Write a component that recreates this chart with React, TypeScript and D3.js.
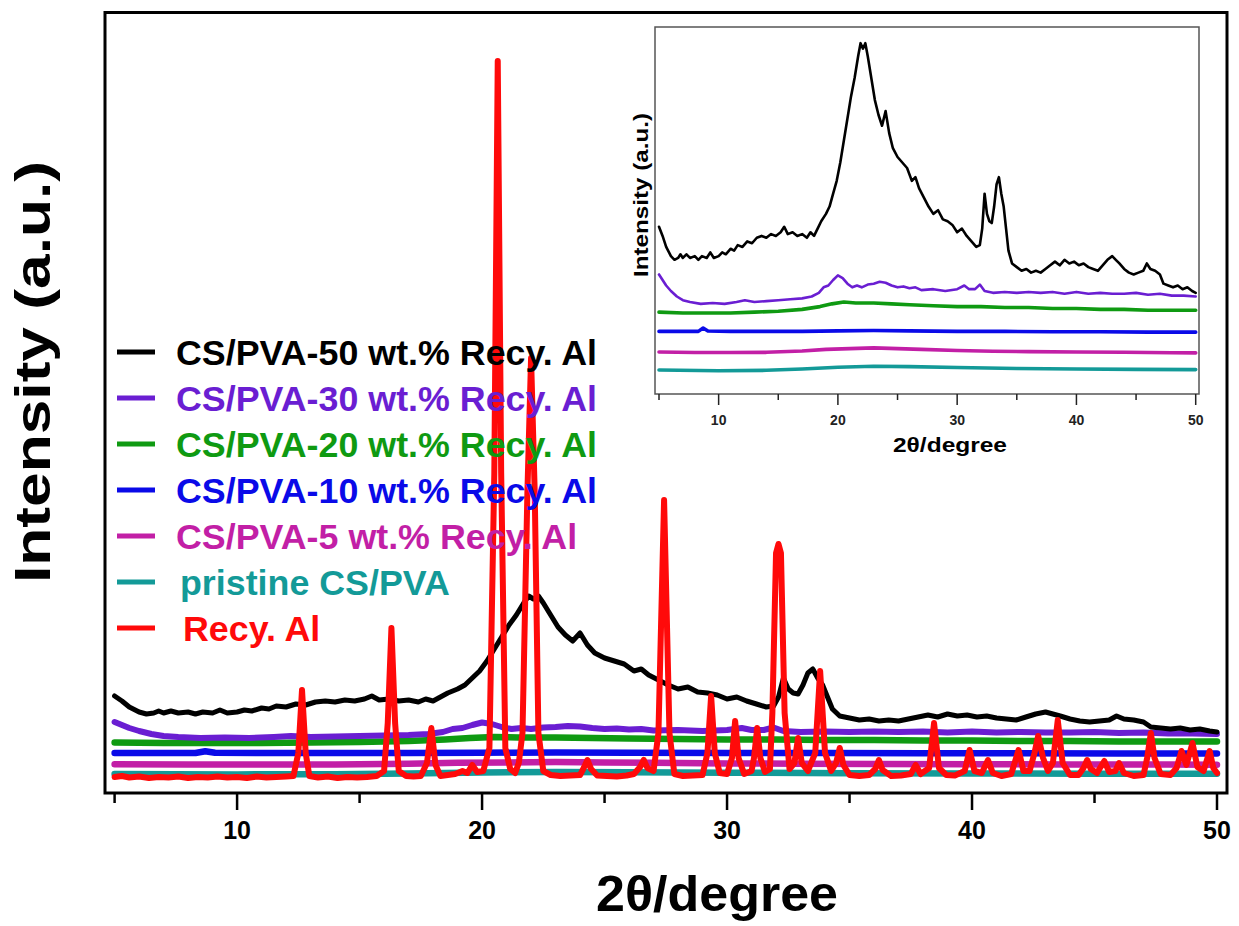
import React, { useEffect } from "react";
import * as d3 from "d3";

type Pt = [number, number];

// ---------- data (2θ in degrees, intensity in arbitrary units) ----------
const X_TICKS = [5, 10, 15, 20, 25, 30, 35, 40, 45, 50];
const X_TICK_LABELS = [10, 20, 30, 40, 50];

const LEGEND_LABELS = [
  "CS/PVA-50 wt.% Recy. Al",
  "CS/PVA-30 wt.% Recy. Al",
  "CS/PVA-20 wt.% Recy. Al",
  "CS/PVA-10 wt.% Recy. Al",
  "CS/PVA-5 wt.% Recy. Al",
  "pristine CS/PVA",
  "Recy. Al",
];
const COLORS = ["#000000", "#6a1ed2", "#0f9a12", "#0a0ae8", "#c21fa6", "#139a98", "#ff0a0a"];

const cs50: Pt[] = [
  [5.0, 97], [5.3, 92], [5.6, 86], [6.0, 81], [6.3, 79], [6.6, 80], [6.8, 82], [7.0, 80], [7.3, 82], [7.6, 80],
  [8.0, 81], [8.3, 79], [8.6, 81], [9.0, 80], [9.3, 83], [9.6, 80], [10.0, 81], [10.3, 83], [10.6, 82], [11.0, 85],
  [11.3, 84], [11.6, 87], [12.0, 86], [12.4, 89], [12.8, 88], [13.2, 91], [13.6, 92], [14.0, 91], [14.4, 93], [14.8, 92],
  [15.2, 94], [15.5, 97], [15.8, 93], [16.2, 94], [16.6, 92], [17.0, 93], [17.4, 91], [17.7, 94], [18.0, 92], [18.3, 96],
  [18.6, 100], [19.0, 104], [19.3, 108], [19.6, 115], [19.9, 122], [20.2, 132], [20.5, 144], [20.8, 156], [21.1, 168], [21.4, 178],
  [21.7, 190], [21.9, 197], [22.1, 194], [22.3, 197], [22.5, 190], [22.8, 178], [23.1, 166], [23.4, 158], [23.7, 152], [24.0, 160],
  [24.3, 148], [24.6, 140], [25.0, 135], [25.4, 132], [25.8, 129], [26.2, 122], [26.5, 124], [26.8, 118], [27.2, 113], [27.6, 108],
  [28.0, 104], [28.4, 106], [28.8, 101], [29.2, 100], [29.6, 98], [30.0, 94], [30.4, 96], [30.8, 92], [31.2, 89], [31.6, 86],
  [31.9, 87], [32.1, 96], [32.3, 115], [32.5, 104], [32.7, 100], [32.9, 99], [33.1, 108], [33.3, 120], [33.5, 124], [33.7, 115],
  [33.9, 108], [34.1, 96], [34.3, 84], [34.6, 77], [35.0, 75], [35.4, 73], [35.8, 74], [36.2, 72], [36.6, 73], [37.0, 72],
  [37.4, 74], [37.8, 76], [38.2, 78], [38.6, 76], [39.0, 79], [39.4, 77], [39.8, 78], [40.2, 76], [40.6, 77], [41.0, 75],
  [41.4, 74], [41.8, 73], [42.2, 76], [42.6, 79], [43.0, 81], [43.3, 79], [43.6, 77], [44.0, 74], [44.4, 72], [44.8, 71],
  [45.2, 72], [45.6, 73], [45.9, 77], [46.2, 74], [46.6, 73], [47.0, 71], [47.3, 66], [47.7, 65], [48.1, 64], [48.5, 65],
  [48.9, 63], [49.3, 64], [49.7, 62], [50.0, 61],
];

const cs30: Pt[] = [
  [5.0, 71], [5.3, 68], [5.6, 65], [6.0, 62], [6.5, 59], [7.0, 57], [7.6, 56], [8.5, 55], [9.5, 55.5], [10.5, 55],
  [11.5, 56], [12.2, 57], [13.0, 56], [14.0, 56.5], [15.0, 57], [16.0, 57.5], [17.0, 58], [17.8, 59], [18.4, 61], [18.8, 64],
  [19.2, 65], [19.6, 68], [20.0, 70.5], [20.4, 69], [20.8, 66], [21.2, 64], [21.6, 65], [22.0, 64], [22.5, 65.5], [23.0, 66],
  [23.5, 67], [24.0, 66.5], [24.5, 65], [25.0, 64], [25.5, 64.5], [26.0, 63.5], [26.5, 64], [27.0, 62.5], [28.0, 63], [29.0, 62],
  [30.0, 63], [30.6, 65], [31.0, 63], [31.5, 63], [31.9, 65.5], [32.3, 62], [33.0, 61], [34.0, 61.5], [35.0, 61], [36.0, 61.5],
  [37.0, 61], [38.0, 61.5], [39.0, 60.5], [40.0, 61.5], [41.0, 60.5], [42.0, 61], [43.0, 60.5], [44.0, 60.5], [45.0, 61], [46.0, 60],
  [47.0, 60.5], [48.0, 59.5], [49.0, 59.5], [50.0, 59],
];

const cs20: Pt[] = [
  [5, 50.5], [7, 50], [9, 50], [11, 50], [13, 50.5], [15, 51], [17, 52], [18.5, 53.5], [19.5, 55], [20.5, 56],
  [21.5, 55.5], [23, 55.5], [24.5, 55], [26, 54.5], [28, 54], [30, 53.5], [32, 53.5], [34, 53], [36, 53], [38, 52.5],
  [40, 52.5], [42, 52], [44, 52], [46, 51.5], [48, 51.5], [50, 51.5],
];

const cs10: Pt[] = [
  [5, 40], [7, 40], [8.3, 40], [8.7, 41.8], [9.1, 40.2], [11, 40], [14, 40], [17, 40], [20, 40.3], [23, 40.5],
  [26, 40.3], [30, 40], [34, 40], [38, 39.8], [42, 39.8], [46, 39.6], [50, 39.6],
];

const cs5: Pt[] = [
  [5, 28.8], [8, 28.5], [11, 28.5], [14, 28.6], [17, 29.3], [19, 30.2], [21, 30.6], [23, 31], [25, 30.6], [27, 30.2],
  [30, 29.6], [33, 29.2], [36, 29], [40, 28.8], [44, 28.6], [48, 28.4], [50, 28.3],
];

const pristine: Pt[] = [
  [5, 19], [10, 18.6], [14, 18.8], [17, 19.5], [20, 20.5], [23, 21], [26, 20.8], [30, 20.3], [35, 19.8], [40, 19.5],
  [45, 19.3], [50, 19.2],
];

const recyAl: Pt[] = [
  [5.0, 16], [5.3, 17], [5.6, 15.5], [6.0, 16.5], [6.4, 15], [6.8, 16], [7.2, 15.5], [7.6, 16.5], [8.0, 15], [8.4, 16],
  [8.8, 15.5], [9.2, 16.5], [9.6, 15.5], [10.0, 16], [10.4, 15], [10.8, 16.5], [11.2, 15.5], [11.6, 16], [12.0, 16.5], [12.3, 17],
  [12.5, 40], [12.65, 103], [12.8, 40], [12.95, 17], [13.3, 15.5], [13.7, 16.5], [14.1, 15], [14.5, 16], [14.9, 15.5], [15.3, 16],
  [15.7, 17], [16.0, 22], [16.15, 70], [16.3, 165], [16.45, 70], [16.6, 22], [16.9, 17], [17.2, 16.5], [17.5, 17], [17.75, 30],
  [17.93, 65], [18.1, 28], [18.3, 17], [18.6, 18], [18.9, 19], [19.2, 22], [19.4, 20], [19.6, 28], [19.8, 21], [20.05, 22],
  [20.3, 45], [20.5, 320], [20.64, 732], [20.78, 320], [20.95, 45], [21.15, 24], [21.35, 20], [21.5, 30], [21.65, 60], [21.85, 300],
  [22.0, 435], [22.15, 300], [22.3, 60], [22.5, 22], [22.8, 18], [23.2, 17], [23.6, 17.5], [24.0, 18], [24.15, 25], [24.3, 33],
  [24.45, 24], [24.7, 17.5], [25.1, 17], [25.5, 16.5], [25.9, 17.5], [26.2, 19], [26.45, 26], [26.6, 33], [26.75, 25], [27.0, 22],
  [27.2, 60], [27.43, 293], [27.65, 60], [27.85, 19], [28.2, 17], [28.6, 17.5], [29.0, 18], [29.2, 40], [29.35, 97], [29.5, 40],
  [29.7, 20], [30.0, 19], [30.2, 35], [30.33, 72], [30.47, 35], [30.7, 19], [31.0, 22], [31.1, 35], [31.23, 65], [31.36, 35],
  [31.55, 21], [31.75, 24], [31.85, 80], [32.0, 240], [32.1, 249], [32.2, 240], [32.35, 80], [32.55, 24], [32.75, 30], [32.9, 55],
  [33.05, 30], [33.3, 22], [33.6, 40], [33.8, 122], [34.0, 40], [34.25, 22], [34.45, 30], [34.6, 45], [34.75, 28], [35.0, 18],
  [35.4, 17], [35.8, 18], [36.05, 24], [36.2, 33], [36.35, 23], [36.7, 17], [37.1, 17.5], [37.5, 19], [37.7, 28], [37.9, 19],
  [38.25, 25], [38.45, 70], [38.65, 25], [38.95, 18], [39.3, 17.5], [39.7, 22], [39.9, 43], [40.1, 22], [40.4, 20], [40.65, 33],
  [40.85, 20], [41.2, 17], [41.6, 19], [41.9, 43], [42.1, 22], [42.35, 22], [42.55, 40], [42.7, 57], [42.9, 35], [43.1, 22],
  [43.3, 30], [43.5, 73], [43.7, 30], [44.0, 18], [44.35, 18], [44.55, 25], [44.7, 33], [44.85, 24], [45.1, 20], [45.4, 32],
  [45.6, 21], [45.85, 22], [46.0, 30], [46.2, 20], [46.6, 17], [47.0, 18], [47.15, 35], [47.3, 60], [47.45, 35], [47.7, 19],
  [48.1, 18], [48.35, 25], [48.55, 42], [48.75, 28], [49.0, 50], [49.2, 26], [49.45, 22], [49.7, 42], [49.85, 25], [50.0, 20],
];

const SERIES: Pt[][] = [cs50, cs30, cs20, cs10, cs5, pristine, recyAl];

const FONT = "'Liberation Sans', Arial, Helvetica, sans-serif";

export default function App() {
  useEffect(() => {
    document.body.style.margin = "0";
  }, []);

  const W = 1239;
  const H = 926;

  // main panel
  const box = { left: 105, right: 1227, top: 12.5, bottom: 793 };
  const x = d3.scaleLinear().domain([5, 50]).range([114.6, 1217]);
  const y = d3.scaleLinear().domain([0, 781]).range([793, 12]);

  // inset panel
  const ibox = { left: 655, right: 1199, top: 27, bottom: 394 };
  const xi = d3.scaleLinear().domain([5, 50]).range([659, 1195.7]);
  const yi = d3.scaleLinear().domain([5.9, 205.8]).range([394, 27]);

  const lineMain = d3.line<Pt>().x((d) => x(d[0])).y((d) => y(d[1]));
  const lineInset = d3.line<Pt>().x((d) => xi(d[0])).y((d) => yi(d[1]));

  const mainWidths = [5, 6, 6.5, 6.5, 6.5, 6.5, 6];
  const insetWidths = [2.6, 2.6, 3.6, 3.6, 3.6, 3.6];
  const drawOrder = [5, 4, 3, 2, 1, 0, 6];
  const legendTextX = [176, 176, 176, 176, 176, 180, 183];

  return (
    <svg width={W} height={H} style={{ position: "absolute", left: 0, top: 0, background: "#fff" }} fontFamily={FONT}>
      <rect x={0} y={0} width={W} height={H} fill="#fff" />

      {/* main series */}
      <g fill="none" strokeLinejoin="round" strokeLinecap="round">
        {drawOrder.map((i) => (
          <path key={i} d={lineMain(SERIES[i]) || ""} stroke={COLORS[i]} strokeWidth={mainWidths[i]} />
        ))}
      </g>

      {/* main frame */}
      <rect x={box.left} y={box.top} width={box.right - box.left} height={box.bottom - box.top} fill="none" stroke="#000" strokeWidth={3} />

      {/* main x ticks */}
      <g stroke="#000" strokeWidth={2.5}>
        {X_TICKS.map((t) => (
          <line key={t} x1={x(t)} x2={x(t)} y1={box.bottom} y2={box.bottom + (t % 10 === 0 ? 17 : 10)} />
        ))}
      </g>
      <g fontSize={25} fontWeight="bold" textAnchor="middle" fill="#000">
        {X_TICK_LABELS.map((t) => (
          <text key={t} x={x(t)} y={839}>{t}</text>
        ))}
      </g>
      <text x={717} y={911} fontSize={50} fontWeight="bold" textAnchor="middle" textLength={242} lengthAdjust="spacingAndGlyphs">2θ/degree</text>
      <text transform="translate(50,372) rotate(-90)" fontSize={50} fontWeight="bold" textAnchor="middle" textLength={422} lengthAdjust="spacingAndGlyphs">Intensity (a.u.)</text>

      {/* legend */}
      <g fontSize={35.8} fontWeight="bold">
        {LEGEND_LABELS.map((lab, i) => {
          const ly = 352 + i * 46;
          return (
            <g key={lab}>
              <line x1={117} x2={155} y1={ly} y2={ly} stroke={COLORS[i]} strokeWidth={5} />
              <text x={legendTextX[i]} y={ly} dy="0.36em" fill={COLORS[i]}>{lab}</text>
            </g>
          );
        })}
      </g>

      {/* inset */}
      <rect x={ibox.left} y={ibox.top} width={ibox.right - ibox.left} height={ibox.bottom - ibox.top} fill="#fff" stroke="#555" strokeWidth={1.5} />
      <g fill="none" strokeLinejoin="round" strokeLinecap="round">
        {[5, 4, 3, 2, 1, 0].map((i) => (
          <path key={i} d={lineInset(SERIES[i]) || ""} stroke={COLORS[i]} strokeWidth={insetWidths[i]} />
        ))}
      </g>
      <g stroke="#222" strokeWidth={1.5}>
        {X_TICKS.map((t) => (
          <line key={t} x1={xi(t)} x2={xi(t)} y1={ibox.bottom} y2={ibox.bottom + (t % 10 === 0 ? 11 : 6)} />
        ))}
      </g>
      <g fontSize={14} fontWeight="bold" textAnchor="middle" fill="#222">
        {X_TICK_LABELS.map((t) => (
          <text key={t} x={xi(t)} y={425}>{t}</text>
        ))}
      </g>
      <text x={950} y={452} fontSize={21} fontWeight="bold" textAnchor="middle" textLength={114} lengthAdjust="spacingAndGlyphs">2θ/degree</text>
      <text transform="translate(648,195) rotate(-90)" fontSize={21} fontWeight="bold" textAnchor="middle" textLength={164} lengthAdjust="spacingAndGlyphs">Intensity (a.u.)</text>
    </svg>
  );
}
